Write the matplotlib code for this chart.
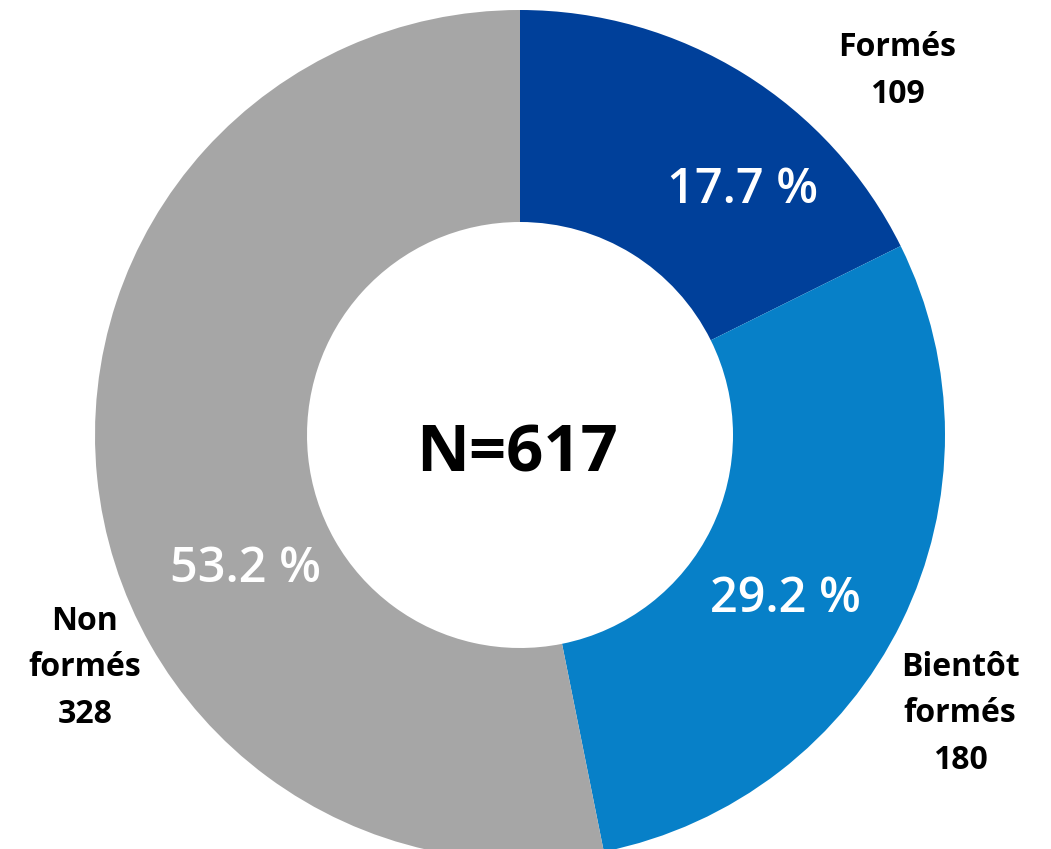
import matplotlib.pyplot as plt

# data
categories = ['Formés', 'Bientôt formés', 'Non formés']
counts = [109, 180, 328]
colors = ['#00409A', '#0780C8', '#A6A6A6']
total = sum(counts)

plt.rcParams['font.family'] = ['Open Sans', 'DejaVu Sans']

fig = plt.figure(figsize=(10.51, 8.49), dpi=100)
ax = fig.add_axes([0, 0, 1, 1])

cx, cy = 520, 849 - 435
ax.pie(counts, colors=colors, startangle=90, counterclock=False,
       center=(cx, cy), radius=425, frame=True,
       wedgeprops=dict(width=425 - 213, linewidth=0))
ax.set_xlim(0, 1051)
ax.set_ylim(0, 849)
ax.set_aspect('equal')
ax.axis('off')

# percentage labels inside the ring
pct_pos = [(743, 190), (785, 600), (245, 570)]
for n, (x, y) in zip(counts, pct_pos):
    ax.text(x, 849 - y, f'{n / total * 100:.1f} %', color='white',
            fontsize=35, fontweight='semibold', ha='center', va='center')

# outside labels with counts
lab_pos = [(897, 71), (960, 714), (85, 668)]
lab_text = ['Formés\n109', 'Bientôt\nformés\n180', 'Non\nformés\n328']
for t, (x, y) in zip(lab_text, lab_pos):
    ax.text(x, 849 - y, t, color='black', fontsize=23, fontweight='bold',
            ha='center', va='center', linespacing=1.55)

ax.text(517, 849 - 455, f'N={total}', fontsize=47, fontweight='bold',
        ha='center', va='center')

fig.savefig('out.png', dpi=100)
